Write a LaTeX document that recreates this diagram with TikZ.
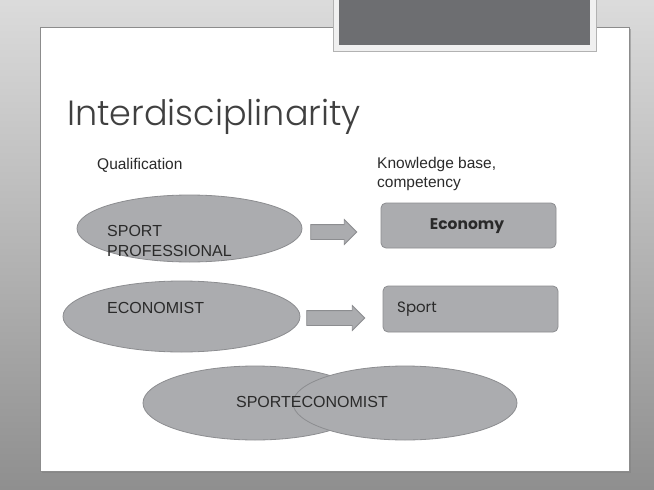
\documentclass[tikz,border=0pt]{standalone}
\usepackage{fontspec}
\setmainfont{Liberation Sans}
\newfontfamily\gothic{Poppins}
\newfontfamily\gothiclight{Poppins}[UprightFont=* Light]
\usetikzlibrary{shapes.geometric,shapes.arrows}
\definecolor{shapefill}{HTML}{ABACAF}
\definecolor{shapeline}{HTML}{8C8D90}
\definecolor{txt}{HTML}{2A2A2A}
\definecolor{darkbox}{HTML}{6D6E71}
\tikzset{
  oval/.style={ellipse, fill=shapefill, draw=shapeline, line width=0.8pt, inner sep=0pt},
  kbox/.style={rectangle, rounded corners=5pt, fill=shapefill, draw=shapeline, line width=0.8pt, inner sep=0pt},
  blockarrow/.style={single arrow, fill=shapefill, draw=shapeline, line width=0.8pt, inner xsep=0pt, inner ysep=7pt, single arrow head extend=5pt, minimum width=24pt},
  lbl/.style={font=\fontsize{15.5}{19}\selectfont, text=txt, inner sep=0pt, align=left}
}
\begin{document}
\begin{tikzpicture}[x=1pt,y=-1pt]
\useasboundingbox (0,0) rectangle (654,490);
% background frame
\shade[top color=black!14, bottom color=black!44] (0,0) rectangle (654,490);
\fill[black!50,opacity=0.5] (42,29) rectangle (631,473);
\fill[white, draw=black!45, line width=0.8pt] (40,27) rectangle (629,471);
% top-right dark box
\fill[black!6, draw=black!30, line width=0.6pt] (333,-2) rectangle (596,51);
\fill[darkbox] (339,-2) rectangle (590,45);
% title
\node[anchor=base west, inner sep=0pt, text=black!75, font=\gothiclight\fontsize{35}{37}\selectfont] (title) at (67,125) {Interdisciplinarity};
% column headings
\node[lbl, anchor=west] (qual) at (97,165) {Qualification};
\node[lbl, anchor=north west] (know) at (377,157) {Knowledge base,\\competency};
% row 1
\node[oval, minimum width=225pt, minimum height=67pt] (sp) at (189.5,228.5) {};
\node[lbl, anchor=west, font=\fontsize{16}{20}\selectfont] (sptext) at (107,241) {SPORT\\PROFESSIONAL};
\node[blockarrow, minimum height=46pt] (a1) at (330,232) {};
\node[kbox, minimum width=175pt, minimum height=45pt] (eco) at (468.5,225.5) {};
\node[inner sep=0pt, text=txt, font=\gothic\bfseries\fontsize{15.5}{17}\selectfont] (ecotext) at (467,226) {Economy};
% row 2
\node[oval, minimum width=237pt, minimum height=71pt] (ec) at (181.5,316.5) {};
\node[lbl, anchor=west, font=\fontsize{16}{18}\selectfont] (ectext) at (107,308) {ECONOMIST};
\node[blockarrow, minimum height=58pt] (a2) at (332,318) {};
\node[kbox, minimum width=175pt, minimum height=46pt] (spb) at (470.5,309) {};
\node[inner sep=0pt, anchor=west, text=txt, font=\gothic\fontsize{15}{17}\selectfont] (spbtext) at (397,309) {Sport};
% bottom
\node[oval, minimum width=224pt, minimum height=74pt] (l) at (255,403) {};
\node[oval, minimum width=224pt, minimum height=74pt] (r) at (405,403) {};
\node[lbl, font=\fontsize{16}{18}\selectfont] (se) at (312,402) {SPORTECONOMIST};
\end{tikzpicture}
\end{document}
